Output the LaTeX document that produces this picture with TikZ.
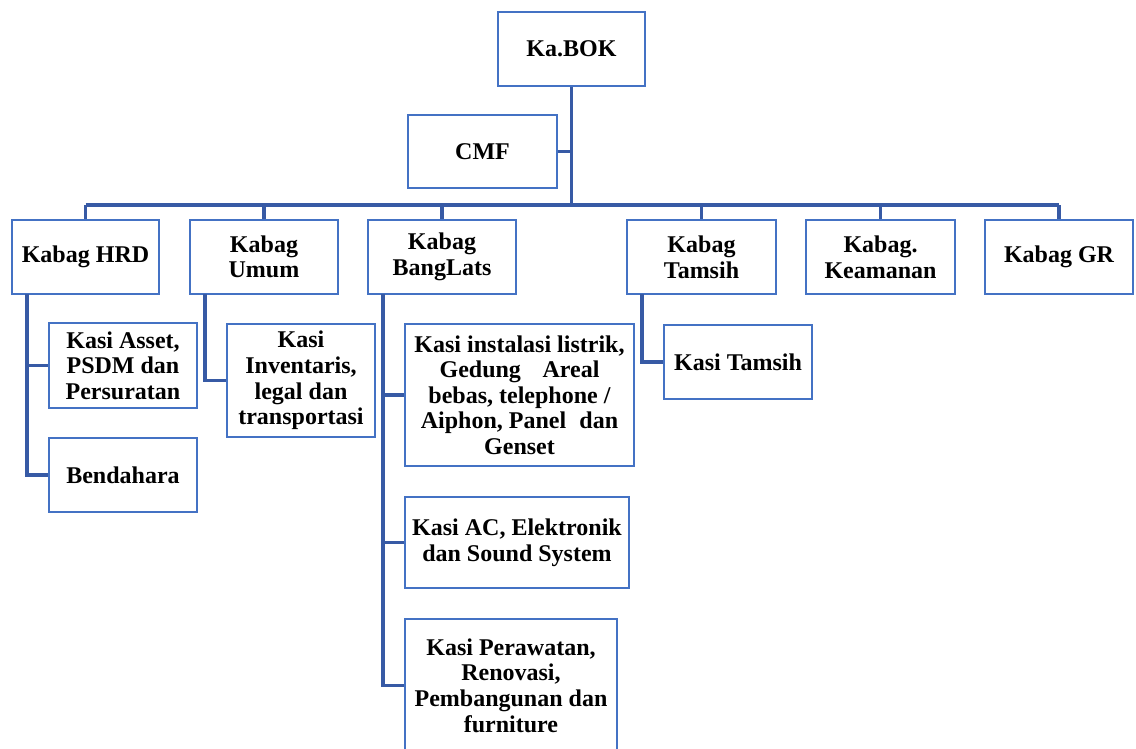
\documentclass[tikz,border=0pt]{standalone}
\usepackage{fontspec}
\setmainfont{Liberation Serif}
\definecolor{boxblue}{RGB}{68,114,196}
\definecolor{lineblue}{RGB}{55,90,165}
\begin{document}
\begin{tikzpicture}[x=0.75pt,y=-0.75pt,
  box/.style={draw=boxblue, line width=2.2pt, fill=white, inner sep=0pt, align=center,
    font=\fontsize{18}{19.2}\selectfont\bfseries},
  conn/.style={draw=lineblue, line width=2.3pt}]
\useasboundingbox (0,0) rectangle (1136,749);
\clip (0,0) rectangle (1136,749);
% top
\node[box, minimum width=147*0.75pt, minimum height=74*0.75pt] (kabok) at (571.5,49) {Ka.BOK};
\node[box, minimum width=149*0.75pt, minimum height=73*0.75pt] (cmf) at (482.5,151.5) {CMF};
% kabag
\node[box, minimum width=147*0.75pt, minimum height=74*0.75pt] (hrd) at (85.5,257) {Kabag HRD};
\node[box, minimum width=148*0.75pt, minimum height=74*0.75pt] (umum) at (264,257) {Kabag\\Umum};
\node[box, minimum width=148*0.75pt, minimum height=74*0.75pt] (banglats) at (442,257) {Kabag\\BangLats};
\node[box, minimum width=149*0.75pt, minimum height=74*0.75pt] (tamsih) at (701.5,257) {Kabag\\Tamsih};
\node[box, minimum width=149*0.75pt, minimum height=74*0.75pt] (keamanan) at (880.5,257) {Kabag.\\Keamanan};
\node[box, minimum width=148*0.75pt, minimum height=74*0.75pt] (gr) at (1059,257) {Kabag GR};
% kasi
\node[box, minimum width=148*0.75pt, minimum height=85*0.75pt] (asset) at (123,365.5) {Kasi Asset,\\PSDM dan\\Persuratan};
\node[box, minimum width=148*0.75pt, minimum height=74*0.75pt] (bendahara) at (123,475) {Bendahara};
\node[box, minimum width=148*0.75pt, minimum height=113*0.75pt] (inventaris) at (301,380.5) {Kasi\\Inventaris,\\legal dan\\transportasi};
\node[box, minimum width=229*0.75pt, minimum height=142*0.75pt] (instalasi) at (519.5,395) {Kasi instalasi listrik,\\Gedung\hspace{0.9em}Areal\\bebas, telephone /\\Aiphon, Panel\hspace{0.55em}dan\\Genset};
\node[box, minimum width=224*0.75pt, minimum height=91*0.75pt] (ac) at (517,542.5) {Kasi AC, Elektronik\\dan Sound System};
\node[box, minimum width=212*0.75pt, minimum height=133*0.75pt] (perawatan) at (511,685.5) {Kasi Perawatan,\\Renovasi,\\Pembangunan dan\\furniture};
\node[box, minimum width=148*0.75pt, minimum height=74*0.75pt] (kasitamsih) at (738,362) {Kasi Tamsih};
% coordinates
\coordinate (bus) at (0,205);
\coordinate (hrdtap) at (27,294);
\coordinate (umumtap) at (205,294);
\coordinate (bltap) at (383,294);
\coordinate (tamtap) at (642,294);
% connectors
\draw[conn] (kabok.south) -- (kabok.south |- bus);
\draw[conn] (cmf.east) -- (cmf.east -| kabok.south);
\draw[conn] (hrd.north |- bus) -- (gr.north |- bus);
\foreach \n in {hrd,umum,banglats,tamsih,keamanan,gr}
  \draw[conn] (\n.north |- bus) -- (\n.north);
\draw[conn] (hrdtap) |- (asset.west);
\draw[conn] (hrdtap) |- (bendahara.west);
\draw[conn] (umumtap) |- (inventaris.west);
\draw[conn] (bltap) |- (instalasi.west);
\draw[conn] (bltap) |- (ac.west);
\draw[conn] (bltap) |- (perawatan.west);
\draw[conn] (tamtap) |- (kasitamsih.west);
\end{tikzpicture}
\end{document}
